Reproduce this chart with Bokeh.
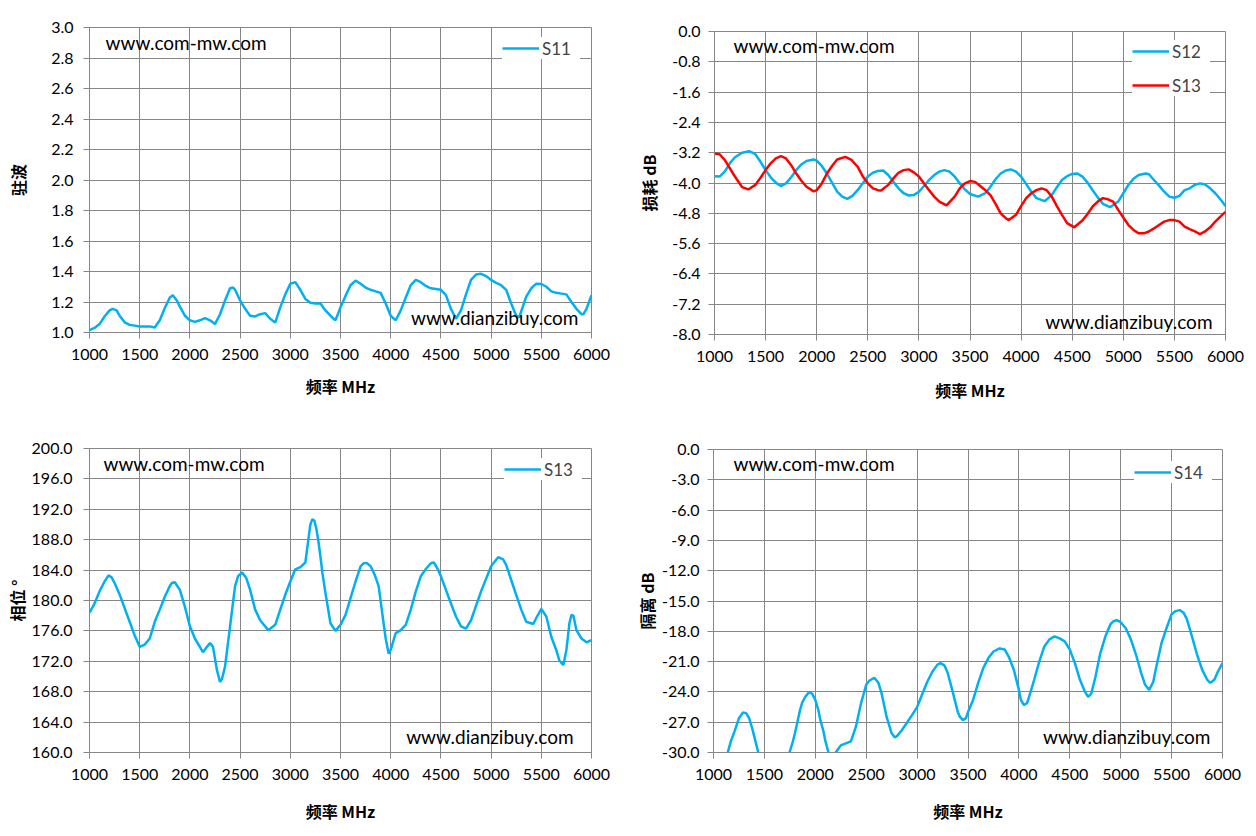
from bokeh.plotting import figure
from bokeh.layouts import column, row
from bokeh.models import Range1d, FixedTicker, NumeralTickFormatter, Label, Legend, LegendItem
from bokeh.embed import file_html
from bokeh.resources import INLINE

# ---- data (frequency MHz, value) ----
freq_ticks = [1000, 1500, 2000, 2500, 3000, 3500, 4000, 4500, 5000, 5500, 6000]

vswr_ticks = [1.0, 1.2, 1.4, 1.6, 1.8, 2.0, 2.2, 2.4, 2.6, 2.8, 3.0]
loss_ticks = [0.0, -0.8, -1.6, -2.4, -3.2, -4.0, -4.8, -5.6, -6.4, -7.2, -8.0]
phase_ticks = [160, 164, 168, 172, 176, 180, 184, 188, 192, 196, 200]
iso_ticks = [0, -3, -6, -9, -12, -15, -18, -21, -24, -27, -30]

s11_pts = [(1000, 1.015), (1050, 1.03), (1100, 1.055), (1150, 1.105), (1200, 1.145),
           (1230, 1.155), (1270, 1.145), (1300, 1.11), (1350, 1.067), (1400, 1.05),
           (1450, 1.045), (1500, 1.04), (1550, 1.04), (1600, 1.04), (1650, 1.033),
           (1700, 1.08), (1750, 1.16), (1800, 1.23), (1830, 1.245), (1870, 1.21),
           (1900, 1.17), (1950, 1.11), (2000, 1.08), (2050, 1.07), (2100, 1.08),
           (2150, 1.095), (2200, 1.08), (2250, 1.055), (2300, 1.12), (2350, 1.21),
           (2400, 1.29), (2430, 1.295), (2450, 1.28), (2500, 1.21), (2550, 1.155),
           (2600, 1.11), (2650, 1.105), (2700, 1.12), (2750, 1.127), (2800, 1.09),
           (2850, 1.065), (2900, 1.165), (2950, 1.25), (3000, 1.32), (3050, 1.33),
           (3100, 1.28), (3150, 1.22), (3200, 1.195), (3250, 1.19), (3300, 1.19),
           (3350, 1.145), (3400, 1.11), (3450, 1.08), (3500, 1.165), (3550, 1.24),
           (3600, 1.31), (3650, 1.34), (3700, 1.32), (3750, 1.295), (3800, 1.28),
           (3850, 1.27), (3900, 1.26), (3950, 1.19), (4000, 1.11), (4050, 1.08),
           (4100, 1.145), (4150, 1.23), (4200, 1.31), (4250, 1.345), (4300, 1.33),
           (4350, 1.305), (4400, 1.29), (4450, 1.285), (4500, 1.28), (4550, 1.245),
           (4600, 1.155), (4650, 1.09), (4700, 1.145), (4750, 1.25), (4800, 1.345),
           (4850, 1.38), (4900, 1.385), (4950, 1.37), (5000, 1.345), (5050, 1.325),
           (5100, 1.31), (5150, 1.28), (5200, 1.19), (5250, 1.11), (5280, 1.10),
           (5350, 1.235), (5400, 1.29), (5450, 1.32), (5500, 1.318), (5550, 1.30),
           (5600, 1.27), (5650, 1.26), (5700, 1.255), (5750, 1.25), (5800, 1.20),
           (5850, 1.155), (5900, 1.12), (5920, 1.12), (5950, 1.155), (6000, 1.245)]

s12_pts = [(1000, -3.82), (1050, -3.83), (1100, -3.70), (1150, -3.48), (1200, -3.32),
           (1270, -3.20), (1340, -3.16), (1400, -3.24), (1450, -3.44), (1500, -3.66),
           (1550, -3.85), (1600, -3.99), (1650, -4.08), (1700, -4.01), (1750, -3.85),
           (1800, -3.66), (1850, -3.51), (1900, -3.42), (1970, -3.38), (2000, -3.41),
           (2050, -3.55), (2100, -3.75), (2150, -3.99), (2200, -4.23), (2250, -4.36),
           (2300, -4.42), (2350, -4.34), (2400, -4.19), (2450, -4.01), (2500, -3.83),
           (2550, -3.73), (2600, -3.68), (2650, -3.67), (2700, -3.79), (2750, -3.97),
           (2800, -4.14), (2850, -4.27), (2900, -4.33), (2950, -4.32), (3000, -4.23),
           (3050, -4.08), (3100, -3.92), (3150, -3.79), (3200, -3.70), (3250, -3.66),
           (3300, -3.70), (3350, -3.83), (3400, -4.01), (3450, -4.17), (3500, -4.29),
           (3580, -4.36), (3650, -4.27), (3700, -4.10), (3750, -3.90), (3800, -3.75),
           (3850, -3.67), (3900, -3.64), (3950, -3.70), (4000, -3.83), (4050, -4.03),
           (4100, -4.23), (4150, -4.40), (4230, -4.48), (4300, -4.32), (4350, -4.11),
           (4400, -3.92), (4450, -3.82), (4500, -3.76), (4550, -3.75), (4600, -3.83),
           (4650, -3.99), (4700, -4.19), (4750, -4.38), (4800, -4.55), (4870, -4.64),
           (4950, -4.49), (5000, -4.27), (5050, -4.05), (5100, -3.89), (5150, -3.79),
           (5220, -3.75), (5250, -3.77), (5300, -3.92), (5350, -4.07), (5400, -4.23),
           (5450, -4.36), (5500, -4.39), (5550, -4.34), (5600, -4.19), (5650, -4.14),
           (5700, -4.05), (5750, -4.01), (5800, -4.04), (5850, -4.14), (5900, -4.27),
           (5950, -4.43), (6000, -4.61)]

s13_pts = [(1000, -3.22), (1050, -3.24), (1100, -3.39), (1150, -3.61), (1200, -3.83),
           (1270, -4.11), (1330, -4.17), (1400, -4.05), (1450, -3.86), (1500, -3.66),
           (1550, -3.48), (1600, -3.35), (1650, -3.29), (1700, -3.35), (1750, -3.53),
           (1800, -3.75), (1850, -3.94), (1900, -4.10), (1970, -4.22), (2000, -4.19),
           (2050, -4.01), (2100, -3.75), (2150, -3.55), (2200, -3.38), (2280, -3.31),
           (2340, -3.39), (2400, -3.57), (2450, -3.82), (2500, -4.01), (2550, -4.14),
           (2600, -4.19), (2630, -4.20), (2700, -4.05), (2750, -3.88), (2800, -3.73),
           (2850, -3.66), (2900, -3.64), (2950, -3.72), (3000, -3.83), (3050, -4.01),
           (3100, -4.19), (3150, -4.36), (3200, -4.49), (3270, -4.59), (3350, -4.36),
           (3400, -4.14), (3450, -4.01), (3500, -3.95), (3550, -3.97), (3600, -4.08),
           (3650, -4.19), (3700, -4.32), (3750, -4.55), (3800, -4.80), (3850, -4.93),
           (3880, -4.98), (3950, -4.84), (4000, -4.61), (4050, -4.40), (4100, -4.27),
           (4150, -4.19), (4200, -4.14), (4250, -4.19), (4300, -4.36), (4350, -4.61),
           (4400, -4.84), (4450, -5.06), (4520, -5.17), (4600, -4.99), (4650, -4.82),
           (4700, -4.62), (4750, -4.49), (4800, -4.40), (4850, -4.43), (4900, -4.49),
           (4950, -4.71), (5000, -4.91), (5050, -5.11), (5100, -5.24), (5150, -5.33),
           (5200, -5.33), (5250, -5.28), (5300, -5.20), (5350, -5.11), (5400, -5.02),
           (5450, -4.98), (5500, -4.98), (5550, -5.02), (5600, -5.15), (5650, -5.22),
           (5700, -5.28), (5750, -5.35), (5800, -5.28), (5850, -5.17), (5900, -5.02),
           (5950, -4.89), (6000, -4.76)]

phase_pts = [(1000, 178.4), (1050, 179.6), (1100, 181.2), (1150, 182.5), (1190, 183.3),
             (1220, 183.05), (1250, 182.3), (1300, 180.8), (1350, 179.0), (1400, 177.2),
             (1450, 175.4), (1500, 173.9), (1550, 174.2), (1600, 175.0), (1650, 177.2),
             (1700, 178.8), (1750, 180.5), (1800, 181.9), (1820, 182.3), (1850, 182.4),
             (1900, 181.4), (1950, 179.2), (2000, 176.6), (2050, 175.0), (2130, 173.2),
             (2170, 173.9), (2200, 174.4), (2230, 173.9), (2270, 170.8), (2300, 169.3),
             (2320, 169.7), (2350, 171.3), (2400, 176.6), (2450, 181.9), (2480, 183.2),
             (2520, 183.7), (2560, 183.0), (2600, 181.4), (2650, 178.8), (2700, 177.4),
             (2780, 176.1), (2850, 176.8), (2900, 178.8), (2950, 180.75), (3000, 182.5),
             (3050, 184.1), (3100, 184.4), (3150, 185.0), (3180, 188.0), (3200, 190.0),
             (3220, 190.7), (3240, 190.5), (3260, 189.4), (3280, 187.8), (3300, 185.8),
             (3320, 183.6), (3350, 181.0), (3400, 177.0), (3450, 176.0), (3500, 176.8),
             (3550, 178.1), (3600, 180.3), (3650, 182.5), (3700, 184.5), (3730, 184.9),
             (3760, 184.95), (3800, 184.5), (3840, 183.4), (3880, 181.9), (3920, 177.9),
             (3950, 175.0), (3980, 173.0), (4000, 173.5), (4050, 175.7), (4100, 176.1),
             (4150, 176.8), (4200, 178.8), (4250, 181.2), (4300, 183.2), (4350, 184.15),
             (4400, 184.9), (4430, 185.0), (4470, 184.1), (4500, 183.2), (4550, 181.4),
             (4600, 179.6), (4650, 177.9), (4700, 176.6), (4750, 176.3), (4800, 177.4),
             (4900, 181.2), (5000, 184.5), (5070, 185.7), (5120, 185.4), (5150, 184.7),
             (5200, 182.7), (5250, 180.75), (5300, 178.8), (5350, 177.2), (5420, 176.9),
             (5450, 177.7), (5500, 178.9), (5550, 177.9), (5600, 175.2), (5650, 173.45),
             (5680, 172.1), (5720, 171.5), (5750, 173.5), (5780, 177.0), (5800, 178.1),
             (5820, 178.0), (5850, 176.1), (5900, 175.0), (5950, 174.5), (6000, 174.8)]

s14_pts = [(1000, -34.0), (1100, -31.0), (1140, -30.0), (1170, -28.9), (1200, -28.1),
           (1250, -26.6), (1290, -26.05), (1320, -26.1), (1350, -26.6), (1380, -27.6),
           (1400, -28.4), (1440, -30.0), (1500, -32.0), (1600, -34.0), (1700, -31.5),
           (1750, -29.9), (1780, -28.9), (1800, -28.1), (1850, -25.8), (1870, -25.1),
           (1900, -24.5), (1940, -24.0), (1970, -24.2), (2000, -24.8), (2030, -25.8),
           (2050, -26.8), (2080, -27.9), (2100, -28.9), (2130, -30.0), (2170, -30.5),
           (2200, -30.0), (2250, -29.3), (2300, -29.1), (2350, -28.9), (2400, -27.4),
           (2450, -25.1), (2500, -23.3), (2530, -22.9), (2580, -22.6), (2620, -23.1),
           (2650, -24.1), (2680, -25.5), (2700, -26.45), (2750, -28.1), (2780, -28.5),
           (2800, -28.4), (2850, -27.8), (2950, -26.3), (3000, -25.5), (3100, -23.0),
           (3150, -22.0), (3200, -21.3), (3230, -21.15), (3270, -21.4), (3300, -22.1),
           (3350, -24.0), (3400, -26.0), (3420, -26.45), (3450, -26.8), (3480, -26.6),
           (3500, -26.0), (3550, -24.8), (3600, -23.1), (3650, -21.65), (3700, -20.65),
           (3750, -20.0), (3810, -19.7), (3860, -19.8), (3900, -20.5), (3950, -21.8),
           (4000, -23.8), (4020, -24.8), (4050, -25.3), (4080, -25.1), (4100, -24.5),
           (4150, -22.8), (4200, -21.0), (4250, -19.5), (4300, -18.8), (4350, -18.5),
           (4400, -18.7), (4450, -19.0), (4500, -19.8), (4550, -21.15), (4600, -22.8),
           (4650, -24.0), (4680, -24.5), (4710, -24.2), (4750, -22.6), (4800, -20.15),
           (4850, -18.5), (4900, -17.3), (4930, -17.0), (4960, -16.9), (5000, -17.1),
           (5050, -17.7), (5100, -18.8), (5150, -20.3), (5200, -22.1), (5240, -23.3),
           (5280, -23.8), (5320, -23.0), (5350, -21.5), (5400, -19.2), (5450, -17.7),
           (5500, -16.3), (5540, -16.0), (5580, -15.9), (5620, -16.2), (5650, -16.8),
           (5700, -18.5), (5750, -20.3), (5800, -21.8), (5850, -22.8), (5880, -23.1),
           (5920, -22.8), (5950, -22.1), (6000, -21.15)]

BLUE = "#00B0F0"
RED = "#FF0000"
GRID = "#868686"
TICK_FONT = "Lato"
CJK_FONT = "Noto Sans CJK SC"


def xy(pts):
    pts = sorted(pts)
    return [f for f, v in pts], [v for f, v in pts]


def make_panel(yticks, ylabel, borders, frame, ystand, xstand):
    left, right, top, bottom = borders
    fw, fh = frame
    p = figure(frame_width=fw, frame_height=fh,
               x_range=Range1d(1000, 6000), y_range=Range1d(min(yticks), max(yticks)),
               output_backend="svg", toolbar_location=None,
               min_border_left=left, min_border_right=right,
               min_border_top=top, min_border_bottom=bottom)
    p.background_fill_color = "white"
    p.border_fill_color = "white"
    p.outline_line_color = GRID
    p.grid.grid_line_color = GRID
    p.grid.grid_line_width = 1
    p.xaxis.ticker = FixedTicker(ticks=freq_ticks)
    p.yaxis.ticker = FixedTicker(ticks=yticks)
    p.yaxis.formatter = NumeralTickFormatter(format="0.0")
    for ax in [p.xaxis[0], p.yaxis[0]]:
        ax.axis_line_color = GRID
        ax.major_tick_line_color = GRID
        ax.major_tick_out = 6
        ax.major_tick_in = 0
        ax.minor_tick_line_color = None
        ax.major_label_text_font = TICK_FONT
        ax.major_label_text_font_size = "16px"
        ax.major_label_text_color = "black"
        ax.axis_label_text_font = CJK_FONT
        ax.axis_label_text_font_style = "bold"
        ax.axis_label_text_color = "black"
    p.xaxis.axis_label = "频率 MHz"
    p.xaxis.axis_label_text_font_size = "16px"
    p.xaxis.major_label_standoff = 10
    p.xaxis.axis_label_standoff = xstand
    p.yaxis.axis_label = ylabel
    p.yaxis.axis_label_text_font_size = "16px"
    p.yaxis.major_label_standoff = ystand[0]
    p.yaxis.axis_label_standoff = ystand[1]
    return p


def watermarks(p, top_xy, bottom_xy):
    p.add_layout(Label(x=top_xy[0], y=top_xy[1], text="www.com-mw.com",
                       text_font=TICK_FONT, text_font_size="19px", text_color="black",
                       text_baseline="middle", text_align="left"))
    p.add_layout(Label(x=bottom_xy[0], y=bottom_xy[1], text="www.dianzibuy.com",
                       text_font=TICK_FONT, text_font_size="19px", text_color="black",
                       text_baseline="middle", text_align="right"))


def add_legend(p, items, loc):
    leg = Legend(items=items, location=loc, border_line_color=None,
                 background_fill_color="white", background_fill_alpha=1.0,
                 padding=8, spacing=12, margin=0, label_height=22, glyph_height=22,
                 glyph_width=37, label_standoff=3, label_width=38,
                 label_text_font=TICK_FONT, label_text_font_size="17px")
    p.add_layout(leg)


# top left: VSWR
p1 = make_panel(vswr_ticks, "驻波", (89, 37, 27, 86), (502, 305), (10, 18), 11)
r11 = p1.line(*xy(s11_pts), line_color=BLUE, line_width=2.5)
watermarks(p1, (1160, 2.90), (5870, 1.10))
add_legend(p1, [LegendItem(label="S11", renderers=[r11])], (413, 273))

# top right: insertion loss
p2 = make_panel(loss_ticks, "损耗 dB", (86, 23, 31, 84), (511, 303), (8, 8), 13)
r12 = p2.line(*xy(s12_pts), line_color=BLUE, line_width=2.5)
r13 = p2.line(*xy(s13_pts), line_color=RED, line_width=2.5)
watermarks(p2, (1186, -0.37), (5873, -7.65))
add_legend(p2, [LegendItem(label="S12", renderers=[r12]),
                LegendItem(label="S13", renderers=[r13])], (418, 238))

# bottom left: phase
p3 = make_panel(phase_ticks, "相位 °", (89, 37, 30, 80), (502, 304), (11, 0), 16)
r3 = p3.line(*xy(phase_pts), line_color=BLUE, line_width=2.5)
watermarks(p3, (1139, 198.0), (5821, 162.1))
add_legend(p3, [LegendItem(label="S13", renderers=[r3])], (415, 272))

# bottom right: isolation
p4 = make_panel(iso_ticks, "隔离 dB", (85, 26, 31, 80), (509, 303), (8, 0), 16)
r4 = p4.line(*xy(s14_pts), line_color=BLUE, line_width=2.5)
watermarks(p4, (1196, -1.4), (5882, -28.4))
add_legend(p4, [LegendItem(label="S14", renderers=[r4])], (421, 269))

# each plot in its own box so the frames keep their own offsets
layout = column(row(column(p1), column(p2)), row(column(p3), column(p4)))

open("out.html", "w").write(file_html(layout, INLINE))
